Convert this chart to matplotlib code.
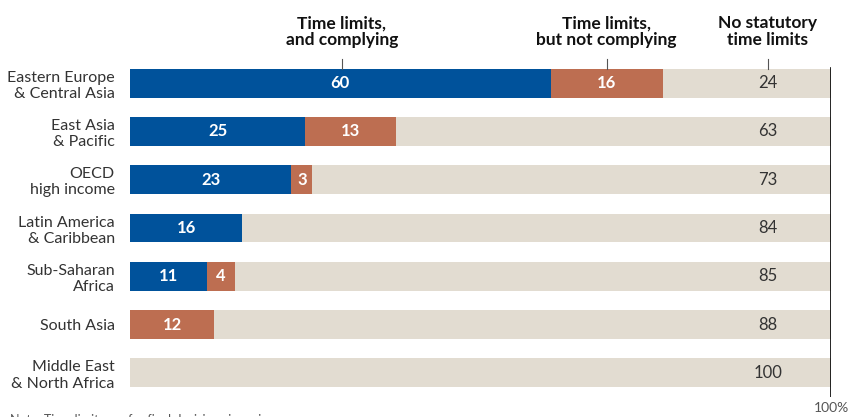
import numpy as np
import matplotlib.pyplot as plt

plt.rcParams['font.family'] = ['Lato', 'DejaVu Sans']

regions = ['Eastern Europe\n& Central Asia', 'East Asia\n& Pacific', 'OECD\nhigh income',
           'Latin America\n& Caribbean', 'Sub-Saharan\nAfrica', 'South Asia',
           'Middle East\n& North Africa']
complying = [60, 25, 23, 16, 11, 0, 0]
not_complying = [16, 13, 3, 0, 4, 12, 0]
no_limits = [24, 63, 73, 84, 85, 88, 100]

c_blue = '#00529b'
c_orange = '#bd6e51'
c_gray = '#e2dcd1'

fig = plt.figure(figsize=(8.5, 4.17), dpi=100)
ax = fig.add_axes([130/850, 1-397/417, 701/850, 338/417])

y = np.arange(len(regions))
comp = np.array(complying)
notc = np.array(not_complying)
nol = np.array(no_limits)
h = 0.6
# gray background fills the rest of each row up to 100%
ax.barh(y, 100, height=h, color=c_gray)
ax.barh(y, comp, height=h, color=c_blue)
ax.barh(y, notc, left=comp, height=h, color=c_orange)

for i in range(len(regions)):
    if comp[i] > 0:
        ax.text(comp[i]/2, i, str(comp[i]), color='white', fontweight='bold',
                fontsize=12, ha='center', va='center')
    if notc[i] > 0:
        ax.text(comp[i] + notc[i]/2, i, str(notc[i]), color='white', fontweight='bold',
                fontsize=12, ha='center', va='center')
    ax.text(91, i, str(nol[i]), color='#333333', fontsize=12, ha='center', va='center')

ax.set_xlim(0, 100)
ax.set_ylim(6.5, -0.5)
ax.set_yticks(y)
ax.set_yticklabels(regions, fontsize=11.5, color='#333333', linespacing=1.2)
ax.tick_params(axis='y', length=0, pad=11)
ax.set_xticks([])
for s in ax.spines.values():
    s.set_visible(False)
ax.axvline(100, ymin=0, ymax=(397-68)/338, color='black', lw=1.2)
fig.text(0.999, 1-408/417, '100%', fontsize=10, color='#555555', ha='right', va='center')

# header labels with small ticks
heads = [(30.2, 'Time limits,\nand complying'), (68, 'Time limits,\nbut not complying'),
         (91, 'No statutory\ntime limits')]
for x, t in heads:
    ax.plot([x, x], [-0.3, -0.5], color='#555555', lw=0.8, clip_on=False)
    ax.text(x, -0.73, t, fontsize=12.5, fontweight='bold', ha='center', va='bottom',
            linespacing=1.05, color='#111111')

fig.text(0.012, -0.008, 'Note: Time limits are for final decisions in main cases.',
         fontsize=9, color='#555555', ha='left', va='center')

fig.savefig('out.png', dpi=100)
